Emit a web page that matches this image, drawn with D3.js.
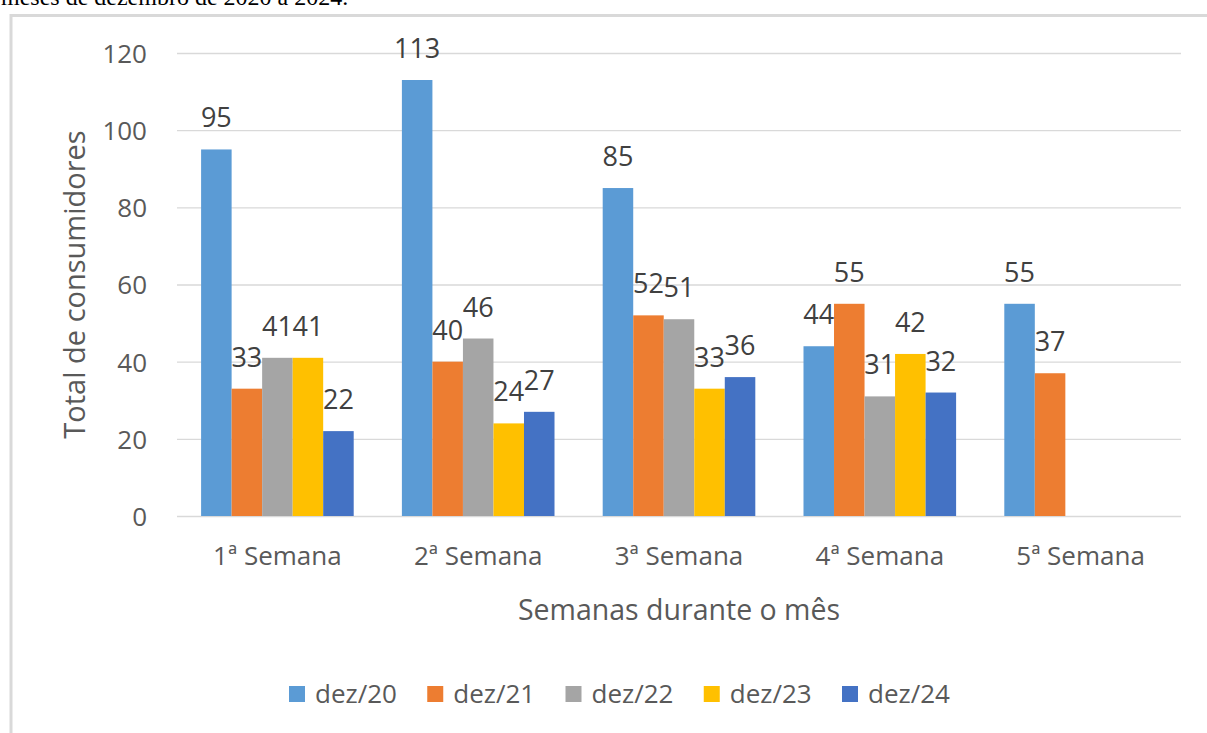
<!DOCTYPE html>
<html>
<head>
<meta charset="utf-8">
<script src="https://cdn.jsdelivr.net/npm/d3@7"></script>
<style>
  html, body { margin: 0; padding: 0; background: #ffffff; }
  svg { display: block; }
</style>
</head>
<body>
<svg id="chart" width="1207" height="733"></svg>
<script>
// ---- data ----
const categories = ["1ª Semana", "2ª Semana", "3ª Semana", "4ª Semana", "5ª Semana"];
const seriesNames = ["dez/20", "dez/21", "dez/22", "dez/23", "dez/24"];
const dez20 = [95, 113, 85, 44, 55];
const dez21 = [33, 40, 52, 55, 37];
const dez22 = [41, 46, 51, 31, null];
const dez23 = [41, 24, 33, 42, null];
const dez24 = [22, 27, 36, 32, null];
const yTicks = [0, 20, 40, 60, 80, 100, 120];
const colors = ["#5B9BD5", "#ED7D31", "#A5A5A5", "#FFC000", "#4472C4"];
const captionText = "meses de dezembro de 2020 a 2024.";
const xTitle = "Semanas durante o mês";
const yTitle = "Total de consumidores";

(function () {
const seriesValues = [dez20, dez21, dez22, dez23, dez24];
const rows = [];
categories.forEach((c, i) => {
  seriesNames.forEach((s, j) => {
    const v = seriesValues[j][i];
    if (v !== null && v !== undefined) rows.push({cat: c, series: s, value: v, idx: j});
  });
});

const svg = d3.select("#chart");
const FONT = "'Open Sans', 'Liberation Sans', sans-serif";

// caption above the chart (cut by top edge)
svg.append("text")
  .attr("x", 1).attr("y", 5)
  .attr("font-family", "'Liberation Serif', 'Times New Roman', serif")
  .attr("font-size", 24)
  .attr("fill", "#000")
  .text(captionText);

// chart border
svg.append("rect")
  .attr("x", 11).attr("y", 15.5)
  .attr("width", 1230).attr("height", 760)
  .attr("fill", "none")
  .attr("stroke", "#d9d9d9")
  .attr("stroke-width", 3);

const pLeft = 177, pRight = 1181, pTop = 53, pBottom = 516;

const x = d3.scaleBand().domain(categories).range([pLeft, pRight])
  .paddingInner(0.24).paddingOuter(0.12);
const xs = d3.scaleBand().domain(seriesNames).range([0, x.bandwidth()]);
const y = d3.scaleLinear().domain([0, 120]).range([pBottom, pTop]);

// gridlines + y labels
const yAxis = d3.axisLeft(y).tickValues(yTicks).tickSize(-(pRight - pLeft)).tickPadding(30);
const gy = svg.append("g").attr("transform", `translate(${pLeft},0)`).call(yAxis);
gy.select(".domain").remove();
gy.selectAll(".tick line").attr("stroke", "#d9d9d9").attr("stroke-width", 1.3);
gy.selectAll(".tick text")
  .attr("font-family", FONT).attr("font-size", 26).attr("fill", "#595959")
  .attr("x", 147 - pLeft).attr("dy", "0.36em");

// bars
svg.append("g").selectAll("rect").data(rows).join("rect")
  .attr("x", d => x(d.cat) + xs(d.series))
  .attr("y", d => y(d.value))
  .attr("width", xs.bandwidth())
  .attr("height", d => y(0) - y(d.value))
  .attr("fill", d => colors[d.idx]);

// data labels
svg.append("g").selectAll("text").data(rows).join("text")
  .attr("x", d => x(d.cat) + xs(d.series) + xs.bandwidth() / 2)
  .attr("y", d => y(d.value) - 22)
  .attr("text-anchor", "middle")
  .attr("font-family", FONT).attr("font-size", 27).attr("fill", "#404040")
  .text(d => d.value);

// x axis labels
const xAxis = d3.axisBottom(x).tickSize(0).tickPadding(0);
const gx = svg.append("g").attr("transform", `translate(0,${pBottom})`).call(xAxis);
gx.select(".domain").remove();
gx.selectAll(".tick text")
  .attr("font-family", FONT).attr("font-size", 26).attr("fill", "#595959")
  .attr("y", 49).attr("dy", 0);

// axis titles
svg.append("text")
  .attr("x", (pLeft + pRight) / 2).attr("y", 620)
  .attr("text-anchor", "middle")
  .attr("font-family", FONT).attr("font-size", 28.5).attr("fill", "#595959")
  .text(xTitle);

svg.append("text")
  .attr("transform", `translate(85,${(pTop + pBottom) / 2}) rotate(-90)`)
  .attr("text-anchor", "middle")
  .attr("font-family", FONT).attr("font-size", 29).attr("fill", "#595959")
  .text(yTitle);

// legend
const legendX = d3.scalePoint().domain(seriesNames).range([289, 842]);
const lg = svg.append("g").selectAll("g").data(seriesNames).join("g")
  .attr("transform", d => `translate(${legendX(d)},686)`);
lg.append("rect").attr("width", 16).attr("height", 16)
  .attr("fill", (d, i) => colors[i]);
lg.append("text").attr("x", 26).attr("y", 17)
  .attr("font-family", FONT).attr("font-size", 26).attr("fill", "#595959")
  .text(d => d);
})();
</script>
</body>
</html>
